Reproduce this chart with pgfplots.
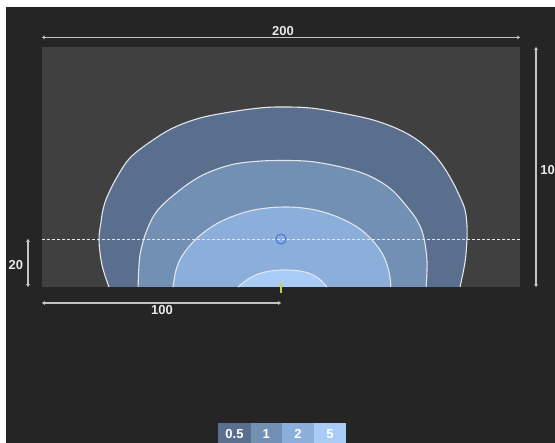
\documentclass[border=0pt]{standalone}
\usepackage{pgfplots}
\pgfplotsset{compat=1.18}
\usepackage{fontspec}
\setmainfont{Liberation Sans}
\usetikzlibrary{arrows.meta}
\definecolor{bgdark}{HTML}{252525}
\definecolor{bginner}{HTML}{404040}
\definecolor{cA}{HTML}{5A6F8D}
\definecolor{cB}{HTML}{7190B4}
\definecolor{cC}{HTML}{8BAEDA}
\definecolor{cD}{HTML}{A8CCF5}
\definecolor{dimc}{HTML}{C4C4C4}
\definecolor{txtc}{HTML}{E8E8E8}
\definecolor{contourc}{HTML}{E2E6EC}
\definecolor{srcc}{HTML}{4A78D8}
\definecolor{tickc}{HTML}{CACC55}
\tikzset{lab/.style={font=\fontsize{13}{15}\selectfont\bfseries, text=txtc, inner sep=0pt},
  dim/.style={dimc, line width=1.5pt, {Stealth[length=3pt,width=4pt]}-{Stealth[length=3pt,width=4pt]}}}
\pgfplotstableread{
x y
-71.97 0
-74.9 9.2
-76.15 19.6
-75.3 27.1
-74.5 32.1
-72.8 37.5
-68.6 45.8
-63.2 53.75
-54.8 60.4
-45.2 66.25
-33.9 70.4
-21.3 72.9
-8.8 74.6
0 75
12.1 74.6
24.7 72.6
38.5 69.6
49.8 65.4
58.2 60.4
65.3 53.75
70.7 45.8
74.9 37.5
77.0 32.1
77.8 25.8
77.8 19.6
77.0 10.4
74.9 0
}\contourA
\pgfplotstableread{
x y
-59.8 0
-59.4 9.2
-58.6 15.4
-56.1 23.75
-51.5 32.1
-42.3 40.4
-32.6 46.7
-21.3 50.8
-10.9 52.3
0 52.7
12.1 52.3
24.7 50.1
36.0 46.7
45.6 41.1
52.7 33.5
57.3 27.1
59.8 20.4
61.1 10.4
60.7 0
}\contourB
\pgfplotstableread{
x y
-45.2 0
-43.9 7.1
-41.4 12.9
-35.1 20.4
-25.5 27.1
-13.0 31.7
0 33.3
12.1 32.5
22.6 29.6
31.8 25
38.1 19.6
42.7 13.3
45.2 6.25
46.0 0
}\contourC
\pgfplotstableread{
x y
-18.0 0
-13.0 3.75
-6.7 6.25
1.7 7.1
10.0 6.25
15.5 3.75
19.2 0
}\contourD
\begin{document}
\begin{tikzpicture}
\begin{axis}[scale only axis,
  width=555pt, height=443pt,
  xmin=-117.573, xmax=114.644, ymin=-65.0, ymax=119.583,
  hide axis, clip=true]
% backgrounds
\fill[white] (-117.573,-65) rectangle (114.644,119.583);
\fill[bgdark] (-115.06,-65) rectangle (114.644,116.67);
\fill[bginner] (-100,0) rectangle (100,100);
% contours
\addplot[fill=cA, draw=none, smooth, tension=0.6] table {\contourA} \closedcycle;
\addplot[contourc, line width=1.1pt, smooth, tension=0.6] table {\contourA};
\addplot[fill=cB, draw=none, smooth, tension=0.6] table {\contourB} \closedcycle;
\addplot[contourc, line width=1.1pt, smooth, tension=0.6] table {\contourB};
\addplot[fill=cC, draw=none, smooth, tension=0.6] table {\contourC} \closedcycle;
\addplot[contourc, line width=1.1pt, smooth, tension=0.6] table {\contourC};
\addplot[fill=cD, draw=none, smooth, tension=0.6] table {\contourD} \closedcycle;
\addplot[contourc, line width=1.1pt, smooth, tension=0.6] table {\contourD};
% dashed receptor line
\addplot[contourc, line width=0.9pt, dash pattern=on 3pt off 2pt] coordinates {(-100,20) (100,20)};
% source marker
\addplot[only marks, mark=o, mark size=5pt, mark options={draw=srcc, line width=1.1pt, fill=none}] coordinates {(0,20)};
% yellow tick
\addplot[tickc, line width=1.5pt] coordinates {(0,2.2) (0,-2.4)};
% dimension lines
\draw[dim] (-100,104) -- (100,104);
\node[lab, anchor=base] at (0.8,104.6) {200};
\draw[dim] (106.7,100) -- (106.7,0);
\node[lab, anchor=west] at (108.4,48.75) {100};
\draw[dim] (-105.86,20) -- (-105.86,0);
\node[lab] at (-110.9,9.2) {20};
\draw[dim] (-100,-6.67) -- (0,-6.67);
\node[lab] at (-49.8,-9.8) {100};
% legend boxes
\fill[cA] (-26.23,-65) rectangle (-12.68,-56.54);
\fill[cB] (-12.68,-65) rectangle (0.29,-56.54);
\fill[cC] (0.29,-65) rectangle (13.93,-56.54);
\fill[cD] (13.93,-65) rectangle (27.07,-56.54);
\node[lab, text=white] at (-19.45,-61.2) {0.5};
\node[lab, text=white] at (-6.2,-61.2) {1};
\node[lab, text=white] at (7.1,-61.2) {2};
\node[lab, text=white] at (20.5,-61.2) {5};
\end{axis}
\end{tikzpicture}
\end{document}
